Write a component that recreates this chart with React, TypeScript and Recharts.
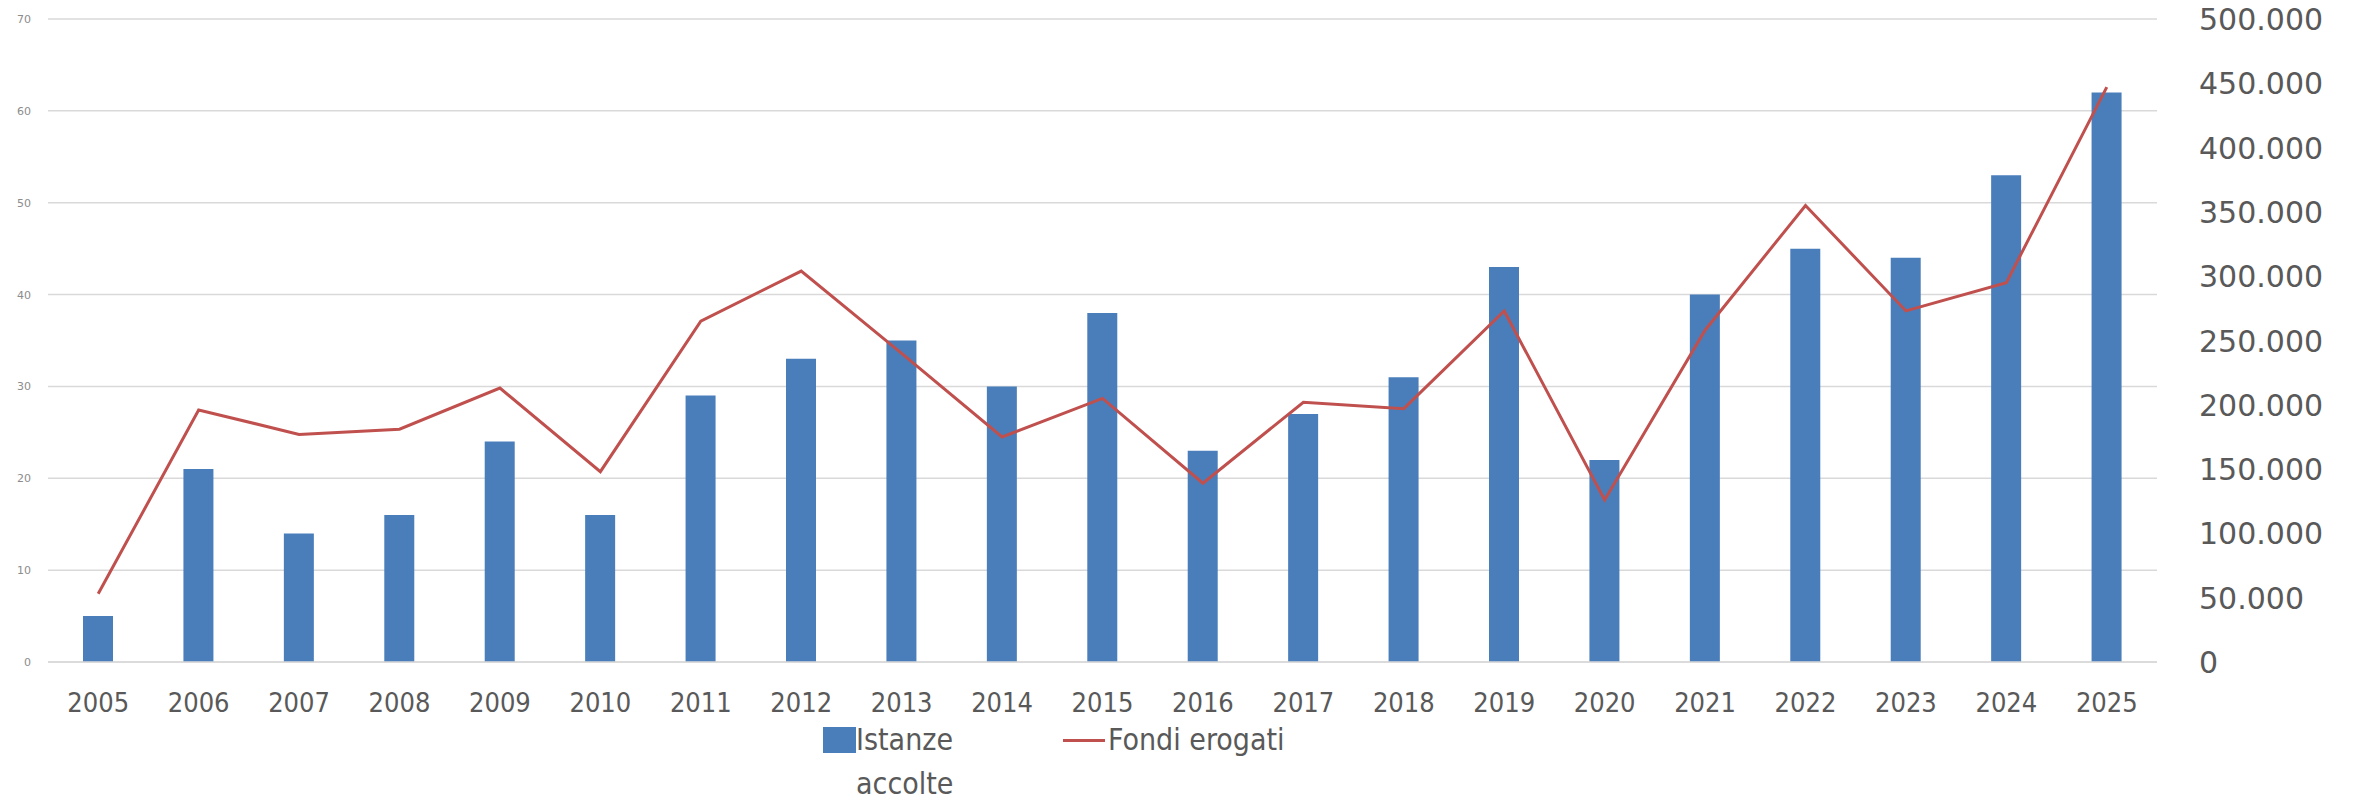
import React from 'react';
import { ComposedChart, Bar, Line, XAxis, YAxis, CartesianGrid, Legend } from 'recharts';

const years = ['2005','2006','2007','2008','2009','2010','2011','2012','2013','2014','2015','2016','2017','2018','2019','2020','2021','2022','2023','2024','2025'];
const istanzeAccolte = [5,21,14,16,24,16,29,33,35,30,38,23,27,31,43,22,40,45,44,53,62];
const fondiErogati = [53000,196000,177000,181000,213000,148000,265000,304000,240000,175000,205000,139000,202000,197000,273000,126000,258000,355000,273000,295000,447000];
const leftTicks = [0,10,20,30,40,50,60,70];
const rightTicks = [0,50000,100000,150000,200000,250000,300000,350000,400000,450000,500000];

const data = years.map((y, i) => ({ year: y, istanze: istanzeAccolte[i], fondi: fondiErogati[i] }));

const BLUE = '#4a7ebb';
const RED = '#c0504d';
const TEXT = '#595959';
const COND = "'DejaVu Sans Condensed', 'Liberation Sans Narrow', 'DejaVu Sans', sans-serif";
const REG = "'DejaVu Sans', sans-serif";

const fmt = (v: number) => String(v).replace(/\B(?=(\d{3})+(?!\d))/g, '.');

const XTick = (props: any) => {
  const { x, y, payload } = props;
  return (
    <text x={x} y={y + 48} textAnchor="middle" fontFamily={COND} fontSize={27} fill={TEXT} style={{ fontStretch: 'condensed' }}>
      {payload.value}
    </text>
  );
};

const LeftTick = (props: any) => {
  const { x, y, payload } = props;
  return (
    <text x={x - 15} y={y + 4} textAnchor="end" fontFamily={REG} fontSize={11} fill="#8c8c8c">
      {payload.value}
    </text>
  );
};

const RightTick = (props: any) => {
  const { x, y, payload } = props;
  return (
    <text x={x + 40} y={y + 11} textAnchor="start" fontFamily={REG} fontSize={30} fill={TEXT}>
      {fmt(payload.value)}
    </text>
  );
};

const LegendContent = () => (
  <div style={{ position: 'relative', width: '100%', height: 90, fontFamily: COND, fontSize: 30, color: TEXT, fontStretch: 'condensed' }}>
    <div style={{ position: 'absolute', left: 823, top: 0, display: 'flex', alignItems: 'flex-start' }}>
      <div style={{ width: 33, height: 26, background: BLUE, marginTop: 9 }} />
      <div style={{ width: 120, lineHeight: '44px' }}>Istanze accolte</div>
    </div>
    <div style={{ position: 'absolute', left: 1063, top: 0, display: 'flex', alignItems: 'flex-start' }}>
      <div style={{ width: 42, height: 3, background: RED, marginTop: 21 }} />
      <div style={{ lineHeight: '44px', marginLeft: 3, whiteSpace: 'nowrap' }}>Fondi erogati</div>
    </div>
  </div>
);

export default function App() {
  return (
    <div style={{ position: 'absolute', left: 0, top: 0, background: '#fff' }}>
      <ComposedChart width={2354} height={799} data={data} margin={{ top: 19, right: 0, bottom: 0, left: 0 }} barCategoryGap="35%">
        <CartesianGrid yAxisId="left" vertical={false} stroke="#d9d9d9" strokeWidth={1.5} />
        <XAxis dataKey="year" height={137} tickSize={0} tick={<XTick />} axisLine={{ stroke: '#d9d9d9', strokeWidth: 1.5 }} interval={0} />
        <YAxis yAxisId="left" orientation="left" width={48} domain={[0, 70]} ticks={leftTicks} axisLine={false} tickLine={false} tickSize={0} tick={<LeftTick />} />
        <YAxis yAxisId="right" orientation="right" width={197} domain={[0, 500000]} ticks={rightTicks} axisLine={false} tickLine={false} tickSize={0} tick={<RightTick />} />
        <Legend layout="horizontal" verticalAlign="middle" align="center" content={<LegendContent />} wrapperStyle={{ left: 0, top: 718, width: 2354, height: 90 }} />
        <Bar yAxisId="left" dataKey="istanze" name="Istanze accolte" fill={BLUE} barSize={30} isAnimationActive={false} />
        <Line yAxisId="right" dataKey="fondi" name="Fondi erogati" type="linear" stroke={RED} strokeWidth={3} dot={false} activeDot={false} isAnimationActive={false} />
      </ComposedChart>
    </div>
  );
}
